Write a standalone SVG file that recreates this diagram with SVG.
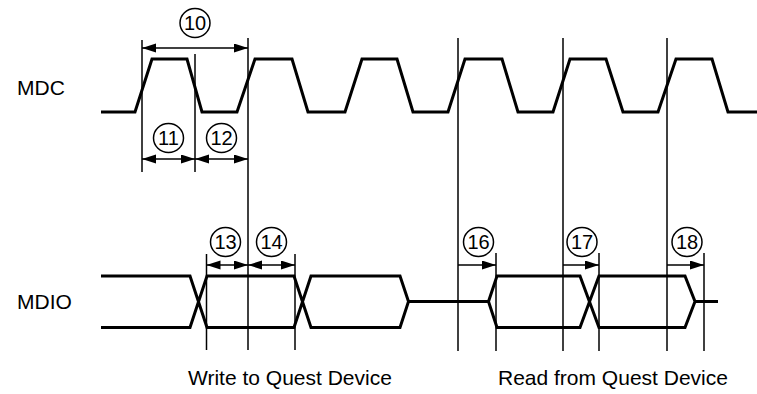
<svg xmlns="http://www.w3.org/2000/svg" width="757" height="394" viewBox="0 0 757 394">
  <defs>
    <marker id="ah" markerUnits="userSpaceOnUse" markerWidth="15" markerHeight="10" refX="14" refY="4.5" orient="auto-start-reverse">
      <path d="M0,0 L14,4.5 L0,9 Z" fill="#000"/>
    </marker>
  </defs>
  <style>
    .wave { fill: none; stroke: #000; stroke-width: 3; stroke-linejoin: miter; }
    .vl { stroke: #000; stroke-width: 1.5; }
    .dim { stroke: #000; stroke-width: 1.5; fill: none; }
    .both { marker-start: url(#ah); marker-end: url(#ah); }
    .one { marker-end: url(#ah); }
    .circ { fill: #fff; stroke: #000; stroke-width: 1.5; }
    .num { font-family: "Liberation Sans", Arial, sans-serif; font-size: 20px; text-anchor: middle; fill: #000; }
    .lbl { font-family: "Liberation Sans", Arial, sans-serif; font-size: 21px; fill: #000; }
  </style>
  <rect width="757" height="394" fill="#fff"/>

  <g id="labels">
    <text class="lbl" x="17" y="95">MDC</text>
    <text class="lbl" x="17" y="309">MDIO</text>
    <text class="lbl" x="188" y="385">Write to Quest Device</text>
    <text class="lbl" x="498" y="385">Read from Quest Device</text>
  </g>

  <g id="mdc">
    <path class="wave" d="M101,112 L135,112 L152,59 L187,59 L202,112 L237,112 L255,59 L292,59 L308,112 L345,112 L362,59 L397,59 L413,112 L448,112 L465,59 L502,59 L518,112 L553,112 L570,59 L606,59 L623,112 L658,112 L676,59 L712,59 L728,112 L757,112"/>
  </g>

  <g id="mdio">
    <path class="wave" d="M101,276 H190 L207,327.5 H294 L311,276 H400 L408.5,301.5 L400,327.5 H311 L294,276 H207 L190,327.5 H101"/>
    <path class="wave" d="M408.5,301.5 H488.5"/>
    <path class="wave" d="M488.5,301.5 L497,276 H580 L599,327.5 H685 L695,301.5 L685,276 H599 L580,327.5 H497 Z"/>
    <path class="wave" d="M695,301.5 H718"/>
  </g>

  <g id="connectors">
    <line class="vl" x1="142" y1="40" x2="142" y2="172"/>
    <line class="vl" x1="195" y1="54" x2="195" y2="172"/>
    <line class="vl" x1="248" y1="38" x2="248" y2="350"/>
    <line class="vl" x1="458" y1="38" x2="458" y2="351"/>
    <line class="vl" x1="563" y1="38" x2="563" y2="351"/>
    <line class="vl" x1="667" y1="38" x2="667" y2="351"/>
    <line class="vl" x1="206.5" y1="254" x2="206.5" y2="350"/>
    <line class="vl" x1="295" y1="254" x2="295" y2="350"/>
    <line class="vl" x1="496" y1="253" x2="496" y2="351"/>
    <line class="vl" x1="599" y1="253" x2="599" y2="351"/>
    <line class="vl" x1="704" y1="253" x2="704" y2="351"/>

    <line class="dim both" x1="142" y1="48" x2="248" y2="48"/>
    <line class="dim both" x1="142" y1="159" x2="195" y2="159"/>
    <line class="dim both" x1="195" y1="159" x2="248" y2="159"/>
    <line class="dim both" x1="206.5" y1="265" x2="248" y2="265"/>
    <line class="dim both" x1="248" y1="265" x2="295" y2="265"/>
    <line class="dim one" x1="458" y1="265" x2="496" y2="265"/>
    <line class="dim one" x1="563" y1="265" x2="599" y2="265"/>
    <line class="dim one" x1="667" y1="265" x2="704" y2="265"/>
  </g>

  <g id="t10"><ellipse class="circ" cx="195" cy="23" rx="15" ry="14.5"/><text class="num" x="195" y="30">10</text></g>
  <g id="t11"><ellipse class="circ" cx="168.5" cy="138" rx="15" ry="14.5"/><text class="num" x="168.5" y="145">11</text></g>
  <g id="t12"><ellipse class="circ" cx="221.5" cy="138" rx="15" ry="14.5"/><text class="num" x="221.5" y="145">12</text></g>
  <g id="t13"><ellipse class="circ" cx="225.5" cy="242" rx="15" ry="14.5"/><text class="num" x="225.5" y="249">13</text></g>
  <g id="t14"><ellipse class="circ" cx="271.5" cy="242" rx="15" ry="14.5"/><text class="num" x="271.5" y="249">14</text></g>
  <g id="t16"><ellipse class="circ" cx="478.5" cy="242" rx="15" ry="14.5"/><text class="num" x="478.5" y="249">16</text></g>
  <g id="t17"><ellipse class="circ" cx="582" cy="242" rx="15" ry="14.5"/><text class="num" x="582" y="249">17</text></g>
  <g id="t18"><ellipse class="circ" cx="687" cy="242" rx="15" ry="14.5"/><text class="num" x="687" y="249">18</text></g>
</svg>
